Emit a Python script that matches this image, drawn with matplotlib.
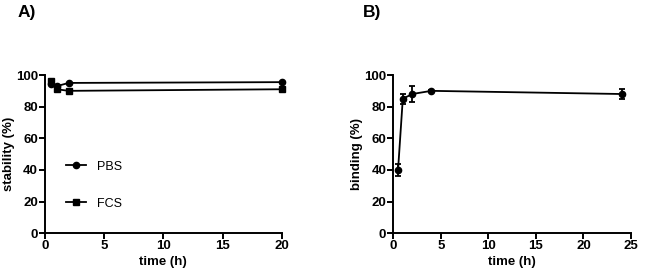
import matplotlib.pyplot as plt

plt.rcParams['font.family'] = ['Liberation Sans', 'DejaVu Sans']
plt.rcParams['font.weight'] = 'bold'

# panel A: stability
time_a = [0.5, 1, 2, 20]
pbs = [94.5, 93, 95, 95.5]
fcs = [96, 91, 90, 91]

# panel B: binding
time_b = [0.5, 1, 2, 4, 24]
binding = [40, 85, 88, 90, 88]
binding_err = [4, 3, 5, 0.5, 3]

fig = plt.figure(figsize=(6.46, 2.72), dpi=100)
axA = fig.add_axes([0.0697, 0.1423, 0.3664, 0.5819])
axB = fig.add_axes([0.6088, 0.1423, 0.3680, 0.5819])

def style(ax):
    for s in ['top', 'right']:
        ax.spines[s].set_visible(False)
    for s in ['left', 'bottom']:
        ax.spines[s].set_linewidth(1.4)
    ax.tick_params(width=1.4, length=4, labelsize=9.5, pad=1)
    for lab in ax.get_xticklabels() + ax.get_yticklabels():
        lab.set_fontweight('bold')
    ax.set_ylim(0, 100)
    ax.set_yticks([0, 20, 40, 60, 80, 100])
    ax.set_xlabel('time (h)', fontsize=9.5, fontweight='bold', labelpad=3)

axA.plot(time_a, pbs, color='black', marker='o', markersize=4.5, linewidth=1.3,
         label='PBS', clip_on=False)
axA.plot(time_a, fcs, color='black', marker='s', markersize=4.5, linewidth=1.3,
         label='FCS', clip_on=False)
axA.set_xlim(0, 20)
axA.set_xticks([0, 5, 10, 15, 20])
axA.set_ylabel('stability (%)', fontsize=9.5, fontweight='bold', labelpad=1)
style(axA)
axA.legend(loc='center left', bbox_to_anchor=(0.04, 0.305), frameon=False,
           handlelength=1.6, labelspacing=2.0, handletextpad=0.9,
           prop={'weight': 'normal', 'size': 9})

axB.errorbar(time_b, binding, yerr=binding_err, color='black', marker='o',
             markersize=4.5, linewidth=1.3, elinewidth=1.3, capsize=2.5,
             capthick=1.3, clip_on=False)
axB.set_xlim(0, 25)
axB.set_xticks([0, 5, 10, 15, 20, 25])
axB.set_ylabel('binding (%)', fontsize=9.5, fontweight='bold', labelpad=1)
style(axB)

fig.text(0.027, 0.955, 'A)', fontsize=12.5, fontweight='bold', va='center')
fig.text(0.562, 0.955, 'B)', fontsize=12.5, fontweight='bold', va='center')

fig.savefig('out.png', dpi=100)
